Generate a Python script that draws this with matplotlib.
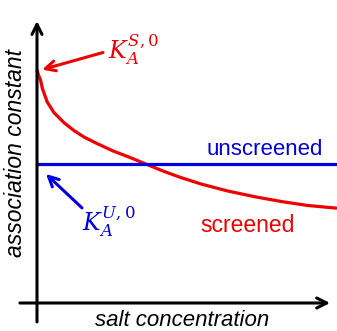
import matplotlib
matplotlib.use("Agg")
import matplotlib.pyplot as plt

# salt concentration (arbitrary units) and association constants
salt = [0, 0.05, 0.12, 0.18, 0.34, 0.57, 0.9, 1.23, 1.57, 1.99, 2.53, 3.1, 3.66,
        4.2, 4.77, 5.49, 6.37, 7.27, 8.16, 9.03, 10.0]
k_screened = [7.77, 7.6, 7.42, 7.15, 6.7, 6.34, 6.01, 5.75, 5.53, 5.32, 5.07, 4.85, 4.62,
              4.4, 4.19, 3.96, 3.73, 3.54, 3.38, 3.25, 3.16]
salt_unscreened = [0, 10.0]
k_unscreened = [4.63, 4.63]

RED = '#f00000'
BLUE = '#0000e0'

plt.rcParams['font.family'] = ['Liberation Sans', 'DejaVu Sans']
plt.rcParams['mathtext.fontset'] = 'dejavuserif'

fig = plt.figure(figsize=(3.37, 3.31), dpi=100)
ax = fig.add_axes([0, 0, 1, 1])
ax.set_xlim(-37 / 30, 300 / 30)
ax.set_ylim(-28 / 30, 303 / 30)
ax.axis('off')

arrow = dict(lw=2.2, mutation_scale=18, shrinkA=0, shrinkB=0)

# axes drawn as arrows
ax.annotate('', xy=(0, 9.4), xytext=(0, -0.63),
            arrowprops=dict(arrowstyle='->', color='black', **arrow))
ax.annotate('', xy=(9.77, 0), xytext=(-0.57, 0),
            arrowprops=dict(arrowstyle='->', color='black', **arrow))

ax.plot(salt, k_screened, color=RED, lw=2.3, solid_capstyle='butt', solid_joinstyle='round')
ax.plot(salt_unscreened, k_unscreened, color=BLUE, lw=2.3, solid_capstyle='butt')

ax.text(-0.7, 5.0, 'association constant', rotation=90, style='italic',
        fontsize=16.5, ha='center', va='center')
ax.text(4.83, -0.6, 'salt concentration', style='italic',
        fontsize=16, ha='center', va='center')

ax.text(9.53, 5.13, 'unscreened', color=BLUE, fontsize=16, ha='right', va='center')
ax.text(5.43, 2.58, 'screened', color=RED, fontsize=16.5, ha='left', va='center')

# labels and arrows for the zero-salt limits
ax.text(2.35, 8.45, r'$K_A^{S,0}$', color=RED, fontsize=17, ha='left', va='center')
ax.annotate('', xy=(0.17, 7.78), xytext=(2.2, 8.35),
            arrowprops=dict(arrowstyle='->', color=RED, **arrow))
ax.text(1.5, 2.72, r'$K_A^{U,0}$', color=BLUE, fontsize=17, ha='left', va='center')
ax.annotate('', xy=(0.3, 4.3), xytext=(1.5, 3.17),
            arrowprops=dict(arrowstyle='->', color=BLUE, **arrow))

fig.savefig('out.png', dpi=100, facecolor='white')
